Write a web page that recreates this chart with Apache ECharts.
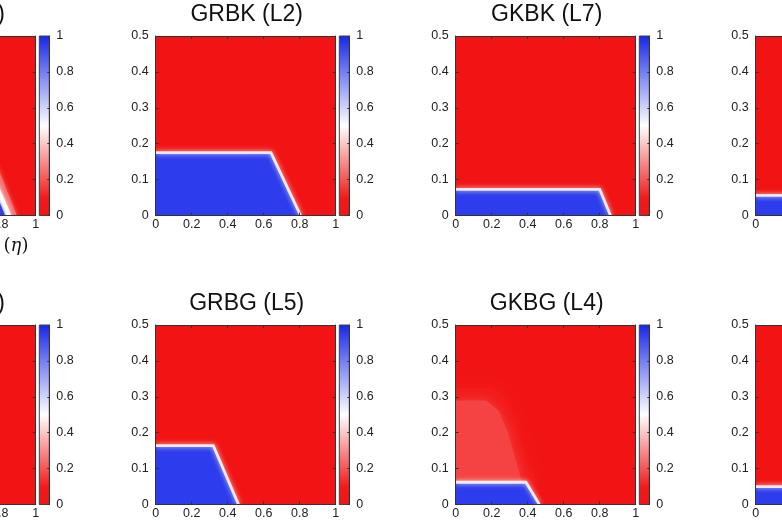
<!DOCTYPE html>
<html><head><meta charset="utf-8">
<script src="https://cdn.jsdelivr.net/npm/echarts@6/dist/echarts.min.js"></script>
<style>html,body{margin:0;padding:0;background:#fff}#c{width:782px;height:521px}</style>
</head><body><div id="c"></div>
<script>
// ---------- data ----------
const panelTitles = ['GRGR (L1)', 'GRBK (L2)', 'GKBK (L7)', 'GKGK (L8)',
                     'GRGR (L3)', 'GRBG (L5)', 'GKBG (L4)', 'GKGK (L6)'];
const xMin = 0, xMax = 1, xStep = 0.2;
const yMin = 0, yMax = 0.5, yStep = 0.1;
const cbMin = 0, cbMax = 1, cbStep = 0.2;

// colormap (value -> colour)
const cmapValues = [0, 0.1, 0.5, 1];
const cmapColors = ['#f21414', '#f31a1a', '#ffffff', '#1626ea'];

// region values
const backgroundValue = 0;
const blueValue = 0.95;
const haloValue = 0.25;
const midValue = 0.5;
const hazeOuterValue = 0.1;
const hazeInnerValue = 0.17;

// region boundaries (x, y)
const domain = [[0, 0], [0, 0.5], [1, 0.5], [1, 0]];
const p1Halo = [[0, 0], [0, 0.5], [0.5, 0.5], [0.8, 0.12], [0.895, 0]];
const p1Mid  = [[0, 0], [0, 0.4], [0.5, 0.4], [0.8, 0.075], [0.865, 0]];
const p1Blue = [[0, 0], [0, 0.3], [0.5, 0.3], [0.8, 0.035], [0.83, 0]];
const p2Blue = [[0, 0], [0, 0.175], [0.64, 0.175], [0.805, 0]];
const p3Blue = [[0, 0], [0, 0.073], [0.80, 0.073], [0.86, 0]];
const p4Blue = [[0, 0], [0, 0.056], [0.80, 0.056], [0.86, 0]];
const p6Blue = [[0, 0], [0, 0.164], [0.32, 0.164], [0.46, 0]];
const p7HazeOuter = [[0, 0.06], [0, 0.325], [0.2, 0.325], [0.27, 0.3], [0.33, 0.24], [0.37, 0.17], [0.41, 0.1], [0.46, 0.06]];
const p7HazeInner = [[0, 0.06], [0, 0.29], [0.17, 0.29], [0.24, 0.26], [0.29, 0.2], [0.33, 0.13], [0.37, 0.06]];
const p7Blue = [[0, 0], [0, 0.062], [0.39, 0.062], [0.465, 0]];
const p8Blue = [[0, 0], [0, 0.05], [0.80, 0.05], [0.86, 0]];

// ---------- layout ----------
const colLeft = [-144.3, 155.7, 455.7, 755.7];
const rowTop = [36, 325];
const plotW = 180, plotH = 179.5, cbGap = 3.6, cbW = 10;
const FONT = 'Liberation Sans';

function hexToRgb(h) { return [1, 3, 5].map(i => parseInt(h.substr(i, 2), 16)); }
function cmap(v) {
  for (let i = 0; i < cmapValues.length - 1; i++) {
    if (v <= cmapValues[i + 1]) {
      const t = (v - cmapValues[i]) / (cmapValues[i + 1] - cmapValues[i]);
      const a = hexToRgb(cmapColors[i]), b = hexToRgb(cmapColors[i + 1]);
      const c = a.map((x, k) => Math.round(x + (b[k] - x) * t));
      return 'rgb(' + c.join(',') + ')';
    }
  }
  return cmapColors[cmapColors.length - 1];
}

// layers per panel: [value, polygon, blur, whiteEdge]
const panels = [
  [[backgroundValue, domain, 0, false], [haloValue, p1Halo, 4, false], [midValue, p1Mid, 4, false], [blueValue, p1Blue, 3, false]],
  [[backgroundValue, domain, 0, false], [blueValue, p2Blue, 0, true]],
  [[backgroundValue, domain, 0, false], [blueValue, p3Blue, 0, true]],
  [[backgroundValue, domain, 0, false], [blueValue, p4Blue, 0, true]],
  [[backgroundValue, domain, 0, false]],
  [[backgroundValue, domain, 0, false], [blueValue, p6Blue, 0, true]],
  [[backgroundValue, domain, 0, false], [hazeOuterValue, p7HazeOuter, 12, false], [hazeInnerValue, p7HazeInner, 12, false], [blueValue, p7Blue, 0, true]],
  [[backgroundValue, domain, 0, false], [blueValue, p8Blue, 0, true]]
];

const grid = [], xAxis = [], yAxis = [], series = [], graphic = [];
const axisColor = '#333';
const labelStyle = { fontFamily: FONT, fontSize: 12.5, color: '#222' };

panels.forEach((layers, i) => {
  const col = i % 4, row = Math.floor(i / 4);
  const L = colLeft[col], T = rowTop[row];
  const gP = grid.length;
  grid.push({ left: L, top: T, width: plotW, height: plotH, outerBoundsMode: 'none', containLabel: false });
  grid.push({ left: L + plotW + cbGap, top: T, width: cbW, height: plotH, outerBoundsMode: 'none', containLabel: false });
  const gC = gP + 1;
  const xb = xAxis.length;
  xAxis.push({ gridIndex: gP, type: 'value', min: xMin, max: xMax, interval: xStep, position: 'bottom', z: 10,
    axisLine: { show: true, onZero: false, lineStyle: { color: axisColor, width: 1 } },
    axisTick: { inside: true, length: 3, lineStyle: { color: axisColor } },
    axisLabel: Object.assign({ margin: 3 }, labelStyle), splitLine: { show: false } });
  xAxis.push({ gridIndex: gP, type: 'value', min: xMin, max: xMax, interval: xStep, position: 'top', z: 10,
    axisLine: { show: true, onZero: false, lineStyle: { color: axisColor, width: 1 } },
    axisTick: { inside: true, length: 3, lineStyle: { color: axisColor } },
    axisLabel: { show: false }, splitLine: { show: false } });
  const yb = yAxis.length;
  yAxis.push({ gridIndex: gP, type: 'value', min: yMin, max: yMax, interval: yStep, position: 'left', z: 10,
    axisLine: { show: true, onZero: false, lineStyle: { color: axisColor, width: 1 } },
    axisTick: { inside: true, length: 3, lineStyle: { color: axisColor } },
    axisLabel: Object.assign({ margin: 7 }, labelStyle), splitLine: { show: false } });
  yAxis.push({ gridIndex: gP, type: 'value', min: yMin, max: yMax, interval: yStep, position: 'right', z: 10,
    axisLine: { show: true, onZero: false, lineStyle: { color: axisColor, width: 1 } },
    axisTick: { inside: true, length: 3, lineStyle: { color: axisColor } },
    axisLabel: { show: false }, splitLine: { show: false } });
  const xc = xAxis.length;
  xAxis.push({ gridIndex: gC, type: 'value', min: 0, max: 1, show: false });
  const yc = yAxis.length;
  yAxis.push({ gridIndex: gC, type: 'value', min: cbMin, max: cbMax, interval: cbStep, position: 'right', z: 10,
    axisLine: { show: true, onZero: false, lineStyle: { color: axisColor, width: 1 } },
    axisTick: { inside: true, length: 2, lineStyle: { color: axisColor } },
    axisLabel: Object.assign({ margin: 7 }, labelStyle), splitLine: { show: false } });

  series.push({
    type: 'custom', xAxisIndex: xb, yAxisIndex: yb, clip: true, silent: true,
    data: layers.map(l => [l[0]]),
    renderItem: function (params, api) {
      const lay = layers[params.dataIndex];
      const color = cmap(api.value(0));
      const pts = lay[1].map(p => api.coord(p));
      const children = [{ type: 'polygon', shape: { points: pts },
        style: { fill: color, shadowBlur: lay[2], shadowColor: color } }];
      if (lay[3]) {
        children.push({ type: 'polyline', shape: { points: pts.slice(1) },
          style: { stroke: 'rgba(255,255,255,0.85)', fill: null, lineWidth: 2.8, shadowBlur: 5, shadowColor: 'rgba(255,255,255,0.95)' } });
      }
      return { type: 'group', children: children };
    }
  });
  series.push({
    type: 'custom', xAxisIndex: xc, yAxisIndex: yc, clip: false, silent: true,
    data: [[cbMin, cbMax]],
    renderItem: function (params, api) {
      const a = api.coord([0, api.value(1)]), b = api.coord([1, api.value(0)]);
      const stops = cmapValues.map((v, k) => ({ offset: 1 - (v - cbMin) / (cbMax - cbMin), color: cmapColors[k] })).reverse();
      return { type: 'rect', shape: { x: a[0], y: a[1], width: b[0] - a[0], height: b[1] - a[1] },
        style: { fill: new echarts.graphic.LinearGradient(0, 0, 0, 1, stops), stroke: '#444', lineWidth: 1 } };
    }
  });
  graphic.push({ type: 'text', x: L + plotW / 2 + 1, y: T - 21.5, silent: true,
    style: { text: panelTitles[i], font: '23px "' + FONT + '"', fill: '#111', textAlign: 'center', textVerticalAlign: 'middle' } });
});

graphic.push({ type: 'text', x: 16, y: 246, silent: true,
  style: { text: '{a|(}{b|η}{a|)}', textAlign: 'center', textVerticalAlign: 'middle',
    rich: { a: { fontFamily: 'DejaVu Serif', fontSize: 18, fill: '#111', color: '#111' },
            b: { fontFamily: 'DejaVu Serif', fontStyle: 'italic', fontSize: 18, fill: '#111', color: '#111' } } } });

const chart = echarts.init(document.getElementById('c'), null, { renderer: 'canvas' });
chart.setOption({ animation: false, backgroundColor: '#fff', grid, xAxis, yAxis, series, graphic });
</script></body></html>
